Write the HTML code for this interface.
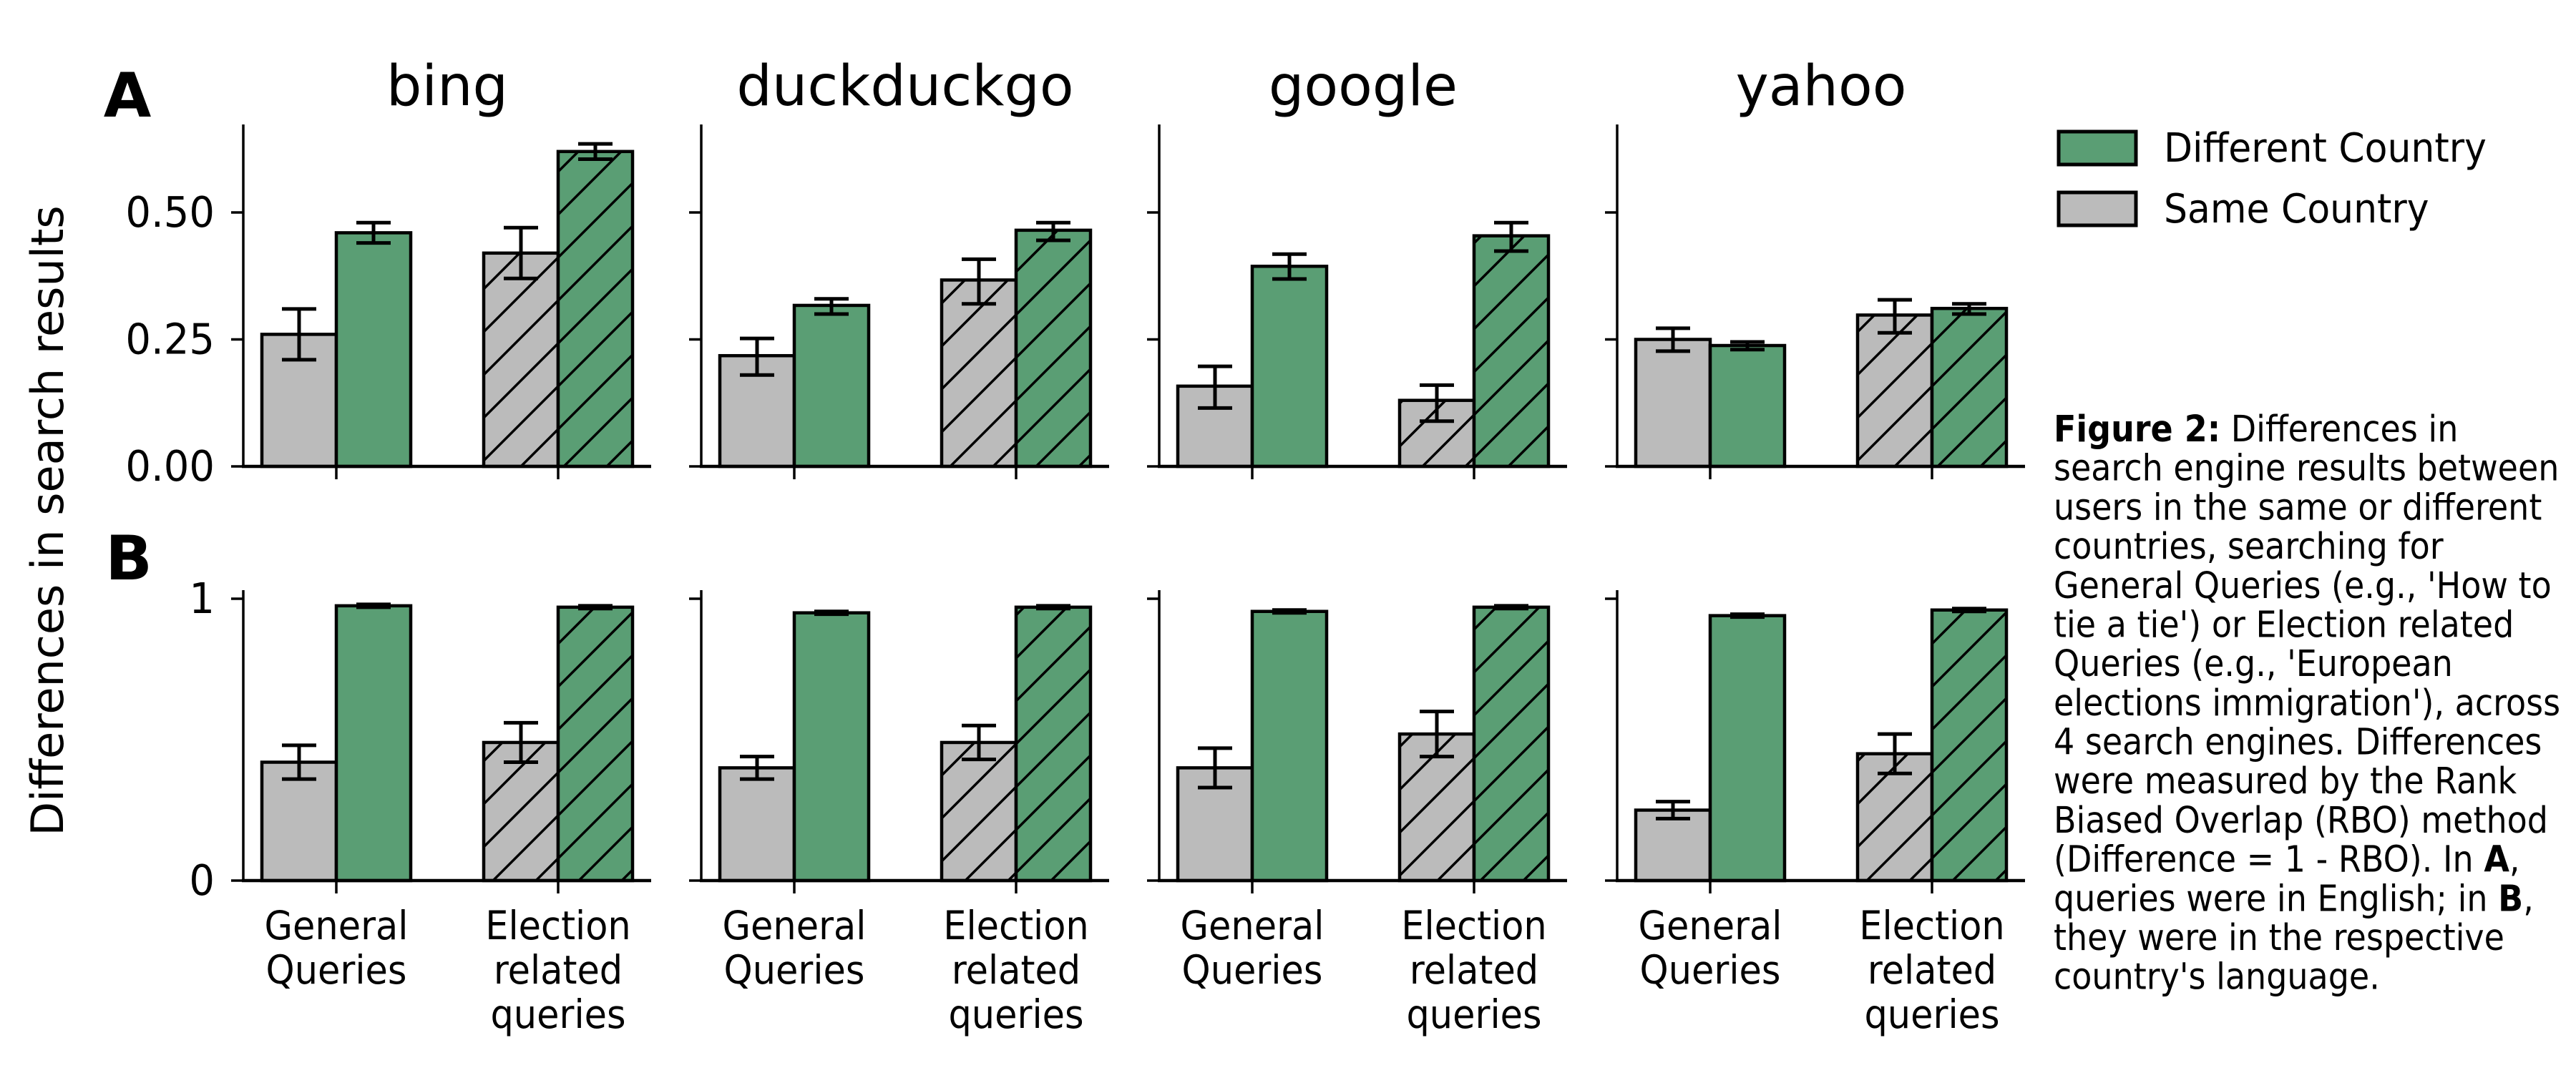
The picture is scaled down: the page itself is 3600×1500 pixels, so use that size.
<!DOCTYPE html>
<html><head><meta charset="utf-8"><style>
html,body{margin:0;padding:0;background:#fff;width:3600px;height:1500px;overflow:hidden}
svg{display:block}
text{font-family:"DejaVu Sans","Liberation Sans",sans-serif;fill:#000}
</style></head><body>
<svg id="s" width="3600" height="1500" viewBox="0 0 3600 1500" xmlns="http://www.w3.org/2000/svg">
<defs>
<pattern id="h" patternUnits="userSpaceOnUse" width="60" height="60">
<path d="M0,60 L60,0 M-15,15 L15,-15 M45,75 L75,45" stroke="#000" stroke-width="3.5"/>
</pattern>
</defs>
<text x="178" y="163" font-size="86" font-weight="bold" text-anchor="middle">A</text>
<text x="180" y="810" font-size="86" font-weight="bold" text-anchor="middle">B</text>
<text transform="translate(88,728) rotate(-90)" font-size="62" text-anchor="middle">Differences in search results</text>
<rect x="2877" y="184" width="108" height="46" fill="#5a9e74" stroke="#000" stroke-width="5"/>
<rect x="2877" y="269" width="108" height="46" fill="#bbbbbb" stroke="#000" stroke-width="5"/>
<text transform="translate(3024,226) scale(1,1.08)" font-size="52">Different Country</text>
<text transform="translate(3024,311) scale(1,1.08)" font-size="52">Same Country</text>
<g font-size="46" transform="translate(2870,617) scale(1,1.1)">
<text x="0" y="0"><tspan font-weight="bold">Figure 2:</tspan> Differences in</text>
<text x="0" y="49.7">search engine results between</text>
<text x="0" y="99.4">users in the same or different</text>
<text x="0" y="149.2">countries, searching for</text>
<text x="0" y="198.9">General Queries (e.g., 'How to</text>
<text x="0" y="248.6">tie a tie') or Election related</text>
<text x="0" y="298.3">Queries (e.g., 'European</text>
<text x="0" y="348.1">elections immigration'), across</text>
<text x="0" y="397.8">4 search engines. Differences</text>
<text x="0" y="447.5">were measured by the Rank</text>
<text x="0" y="497.2">Biased Overlap (RBO) method</text>
<text x="0" y="547.0">(Difference = 1 - RBO). In <tspan font-weight="bold">A</tspan>,</text>
<text x="0" y="596.7">queries were in English; in <tspan font-weight="bold">B</tspan>,</text>
<text x="0" y="646.4">they were in the respective</text>
<text x="0" y="696.1">country's language.</text>
</g>
<g id="plots"></g>
</svg>
<script>
var titles=["bing","duckduckgo","google","yahoo"];
var A=[
[[0.26,0.21,0.31],[0.46,0.44,0.48],[0.42,0.37,0.47],[0.62,0.605,0.635]],
[[0.218,0.18,0.252],[0.317,0.30,0.33],[0.367,0.32,0.408],[0.465,0.445,0.48]],
[[0.158,0.115,0.197],[0.394,0.369,0.418],[0.13,0.089,0.16],[0.454,0.424,0.48]],
[[0.25,0.227,0.272],[0.238,0.23,0.245],[0.298,0.263,0.328],[0.311,0.30,0.32]]];
var B=[
[[0.42,0.36,0.48],[0.975,0.97,0.98],[0.49,0.42,0.56],[0.97,0.965,0.975]],
[[0.40,0.36,0.44],[0.95,0.945,0.955],[0.49,0.43,0.55],[0.97,0.965,0.975]],
[[0.40,0.33,0.47],[0.955,0.95,0.96],[0.52,0.44,0.60],[0.97,0.965,0.975]],
[[0.25,0.22,0.28],[0.94,0.935,0.945],[0.45,0.38,0.52],[0.96,0.955,0.965]]];
var out="";
function T(x,y,fs,txt,anchor,sy){
  return '<text transform="translate('+x+','+y+') scale(1,'+(sy||1.08)+')" font-size="'+fs+'" text-anchor="'+anchor+'">'+txt+'</text>';
}
function panel(L,top,base,scale,data,ticks,labels,xl){
  var s="";
  var cs=[L+130,L+440];
  for(var g=0;g<2;g++){
    var c=cs[g];
    for(var k=0;k<2;k++){
      var d=data[g*2+k];
      var x=k==0?c-104:c;
      var y=base-d[0]*scale;
      s+='<rect x="'+x+'" y="'+y+'" width="104" height="'+(base-y)+'" fill="'+(k==0?'#bbbbbb':'#5a9e74')+'"/>';
      if(g==1) s+='<rect x="'+x+'" y="'+y+'" width="104" height="'+(base-y)+'" fill="url(#h)"/>';
      s+='<rect x="'+x+'" y="'+y+'" width="104" height="'+(base-y)+'" fill="none" stroke="#000" stroke-width="4.5"/>';
    }
    for(var k=0;k<2;k++){
      var d=data[g*2+k];
      var ex=k==0?c-52:c+52;
      var y1=base-d[1]*scale,y2=base-d[2]*scale;
      s+='<path d="M'+ex+','+y1+' V'+y2+' M'+(ex-24)+','+y1+' h48 M'+(ex-24)+','+y2+' h48" stroke="#000" stroke-width="5" fill="none"/>';
    }
    s+='<line x1="'+c+'" y1="'+base+'" x2="'+c+'" y2="'+(base+18)+'" stroke="#000" stroke-width="3.5"/>';
  }
  s+='<line x1="'+L+'" y1="'+top+'" x2="'+L+'" y2="'+base+'" stroke="#000" stroke-width="3.5"/>';
  s+='<line x1="'+(L-2)+'" y1="'+base+'" x2="'+(L+570)+'" y2="'+base+'" stroke="#000" stroke-width="4.5"/>';
  for(var t=0;t<ticks.length;t++){
    var ty=base-ticks[t][0]*scale;
    s+='<line x1="'+(L-17)+'" y1="'+ty+'" x2="'+L+'" y2="'+ty+'" stroke="#000" stroke-width="3.5"/>';
    if(labels) s+=T(L-40,ty+20,56,ticks[t][1],"end",1.05);
  }
  if(xl){
    s+=T(cs[0],1313,51,"General","middle");
    s+=T(cs[0],1375,51,"Queries","middle");
    s+=T(cs[1],1313,51,"Election","middle");
    s+=T(cs[1],1375,51,"related","middle");
    s+=T(cs[1],1437,51,"queries","middle");
  }
  return s;
}
for(var i=0;i<4;i++){
  var L=340+640*i;
  out+='<text x="'+(L+285)+'" y="147" font-size="78" text-anchor="middle">'+titles[i]+'</text>';
  out+=panel(L,174,652,710,A[i],[[0,"0.00"],[0.25,"0.25"],[0.5,"0.50"]],i==0,false);
  out+=panel(L,825,1231,394,B[i],[[0,"0"],[1,"1"]],i==0,true);
}
document.getElementById("plots").innerHTML=out;
</script>
</body></html>
